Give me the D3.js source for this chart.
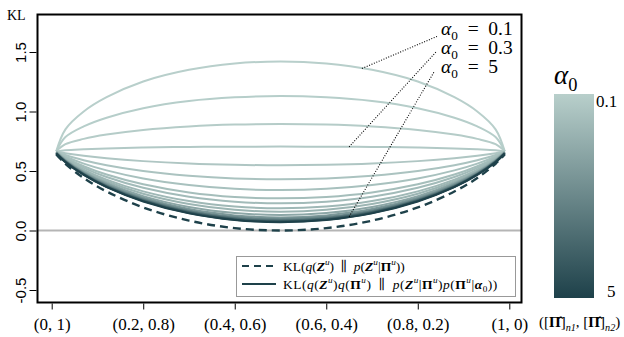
<!DOCTYPE html>
<html>
<head>
<meta charset="utf-8">
<script src="https://cdn.jsdelivr.net/npm/d3@7"></script>
<style>
  body { margin: 0; background: #fff; }
  svg { display: block; }
</style>
</head>
<body>
<svg id="chart" width="624" height="337"></svg>
<script>
// x positions: [Pi]_n1 (second coordinate is 1 - x)
const pi1 = [0.01, 0.03, 0.07, 0.12, 0.2, 0.3, 0.4, 0.5, 0.6, 0.7, 0.8, 0.88, 0.93, 0.97, 0.99];
const alpha0 = [0.1, 0.15, 0.2, 0.3, 0.4, 0.5, 0.6, 0.7, 0.8, 0.9, 1, 1.5, 2, 2.5, 3, 3.5, 4, 4.5, 5];

// KL(q(Z)q(Pi) || p(Z|Pi)p(Pi|alpha0)), one row per alpha0
const klJoint = [
  [0.665, 0.850, 1.000, 1.120, 1.252, 1.350, 1.403, 1.420, 1.403, 1.350, 1.252, 1.120, 1.000, 0.850, 0.665],
  [0.665, 0.785, 0.875, 0.948, 1.028, 1.088, 1.119, 1.130, 1.119, 1.088, 1.028, 0.948, 0.875, 0.785, 0.665],
  [0.665, 0.725, 0.770, 0.806, 0.845, 0.874, 0.890, 0.895, 0.890, 0.874, 0.845, 0.806, 0.770, 0.725, 0.665],
  [0.665, 0.675, 0.683, 0.690, 0.697, 0.702, 0.704, 0.705, 0.704, 0.702, 0.697, 0.690, 0.683, 0.675, 0.665],
  [0.664, 0.650, 0.628, 0.607, 0.583, 0.563, 0.552, 0.548, 0.552, 0.563, 0.583, 0.607, 0.628, 0.650, 0.664],
  [0.663, 0.634, 0.591, 0.549, 0.500, 0.460, 0.437, 0.430, 0.437, 0.460, 0.500, 0.549, 0.591, 0.634, 0.663],
  [0.662, 0.622, 0.562, 0.505, 0.437, 0.382, 0.350, 0.340, 0.350, 0.382, 0.437, 0.505, 0.562, 0.622, 0.662],
  [0.661, 0.613, 0.540, 0.470, 0.388, 0.320, 0.282, 0.270, 0.282, 0.320, 0.388, 0.470, 0.540, 0.613, 0.661],
  [0.660, 0.607, 0.526, 0.449, 0.359, 0.284, 0.242, 0.228, 0.242, 0.284, 0.359, 0.449, 0.526, 0.607, 0.660],
  [0.659, 0.600, 0.512, 0.428, 0.329, 0.247, 0.201, 0.186, 0.201, 0.247, 0.329, 0.428, 0.512, 0.600, 0.659],
  [0.658, 0.596, 0.503, 0.414, 0.309, 0.223, 0.174, 0.158, 0.174, 0.223, 0.309, 0.414, 0.503, 0.596, 0.658],
  [0.657, 0.592, 0.493, 0.400, 0.289, 0.198, 0.147, 0.130, 0.147, 0.198, 0.289, 0.400, 0.493, 0.592, 0.657],
  [0.655, 0.588, 0.486, 0.389, 0.275, 0.180, 0.127, 0.110, 0.127, 0.180, 0.275, 0.389, 0.486, 0.588, 0.655],
  [0.653, 0.584, 0.480, 0.382, 0.265, 0.169, 0.115, 0.097, 0.115, 0.169, 0.265, 0.382, 0.480, 0.584, 0.653],
  [0.651, 0.581, 0.476, 0.376, 0.258, 0.161, 0.106, 0.088, 0.106, 0.161, 0.258, 0.376, 0.476, 0.581, 0.651],
  [0.650, 0.580, 0.474, 0.373, 0.254, 0.155, 0.100, 0.082, 0.100, 0.155, 0.254, 0.373, 0.474, 0.580, 0.650],
  [0.648, 0.577, 0.471, 0.369, 0.250, 0.151, 0.095, 0.077, 0.095, 0.151, 0.250, 0.369, 0.471, 0.577, 0.648],
  [0.647, 0.576, 0.469, 0.367, 0.247, 0.147, 0.091, 0.073, 0.091, 0.147, 0.247, 0.367, 0.469, 0.576, 0.647],
  [0.645, 0.574, 0.467, 0.364, 0.244, 0.144, 0.088, 0.070, 0.088, 0.144, 0.244, 0.364, 0.467, 0.574, 0.645]
];
// KL(q(Z) || p(Z|Pi))
const klZ = [0.640, 0.561, 0.441, 0.328, 0.194, 0.083, 0.020, 0.000, 0.020, 0.083, 0.194, 0.328, 0.441, 0.561, 0.640];

const xTicks = [0, 0.2, 0.4, 0.6, 0.8, 1];
const xTickLabels = ["(0, 1)", "(0.2, 0.8)", "(0.4, 0.6)", "(0.6, 0.4)", "(0.8, 0.2)", "(1, 0)"];
const yTicks = [-0.5, 0, 0.5, 1, 1.5];
const yTickLabels = ["-0.5", "0.0", "0.5", "1.0", "1.5"];
const labelled = [["0.1", 0], ["0.3", 3], ["5", 18]];

const serif = "'Liberation Serif', 'DejaVu Serif', serif";
const sans = "'Liberation Sans', Arial, sans-serif";
const light = "#b8cfcb", dark = "#1e414a";

const svg = d3.select("#chart");
const x = d3.scaleLinear().domain([0, 1]).range([51.7, 509.3]);
const y = d3.scaleLinear().domain([-0.5, 1.5]).range([290, 52]);
const col = d3.scaleLinear().domain([0.1, 5]).range([light, dark]).interpolate(d3.interpolateRgb);

const box = {left: 37.5, right: 521.5, top: y(1.815), bottom: y(-0.605)};

// rich text: parts = [text, flags]; flags (space separated): i, b, sup, sub
function rich(sel, parts, size) {
  let shift = 0;
  parts.forEach(([t, f = ""]) => {
    const fl = f.split(" ");
    const ts = sel.append("tspan").text(t);
    let target = 0;
    if (fl.includes("sup")) target = -0.38 * size;
    if (fl.includes("sub")) target = 0.25 * size;
    if (target !== shift) { ts.attr("dy", target - shift); shift = target; }
    if (fl.includes("sup") || fl.includes("sub")) ts.attr("font-size", size * 0.68);
    if (fl.includes("i")) ts.attr("font-style", "italic");
    if (fl.includes("b")) ts.attr("font-weight", "bold");
  });
}

// zero line
svg.append("line")
  .attr("x1", box.left).attr("x2", box.right)
  .attr("y1", y(0)).attr("y2", y(0))
  .attr("stroke", "#b5b5b5").attr("stroke-width", 2);

const line = d3.line()
  .x((d, i) => x(pi1[i]))
  .y(d => y(d))
  .curve(d3.curveCatmullRom.alpha(0.5));

svg.append("g").selectAll("path")
  .data(klJoint)
  .join("path")
  .attr("d", line)
  .attr("fill", "none")
  .attr("stroke", (d, i) => col(alpha0[i]))
  .attr("stroke-width", 2);

svg.append("path")
  .attr("d", line(klZ))
  .attr("fill", "none")
  .attr("stroke", dark)
  .attr("stroke-width", 2.4)
  .attr("stroke-dasharray", "8,5");

// frame
svg.append("rect")
  .attr("x", box.left).attr("y", box.top)
  .attr("width", box.right - box.left).attr("height", box.bottom - box.top)
  .attr("fill", "none").attr("stroke", "#000").attr("stroke-width", 2);

// y axis
const yAxis = svg.append("g").attr("transform", `translate(${box.left - 1},0)`)
  .call(d3.axisLeft(y).tickValues(yTicks).tickSize(7).tickFormat((d, i) => yTickLabels[i]));
yAxis.select(".domain").remove();
yAxis.selectAll("line").attr("stroke", "#000").attr("stroke-width", 1);
yAxis.selectAll("text")
  .attr("font-family", sans).attr("font-size", 15).attr("fill", "#000")
  .attr("x", null).attr("y", null).attr("dy", null)
  .attr("transform", "translate(-16,0) rotate(-90)")
  .attr("text-anchor", "middle")
  .attr("dominant-baseline", "central");

svg.append("text").attr("x", 7).attr("y", 20)
  .attr("font-family", serif).attr("font-size", 14).text("KL");

// x axis
const xAxis = svg.append("g").attr("transform", `translate(0,${box.bottom + 1})`)
  .call(d3.axisBottom(x).tickValues(xTicks).tickSize(6).tickFormat((d, i) => xTickLabels[i]));
xAxis.select(".domain").remove();
xAxis.selectAll("line").attr("stroke", "#000");
xAxis.selectAll("text")
  .attr("font-family", serif).attr("font-size", 17).attr("fill", "#000")
  .attr("y", 27).attr("dy", 0);

rich(svg.append("text").attr("x", 539).attr("y", 327)
  .attr("font-family", serif).attr("font-size", 15),
  [["(["], ["Π̂", "b"], ["]"], ["n1", "sub i"], [", ["], ["Π̂", "b"], ["]"], ["n2", "sub i"], [")"]], 15);

// alpha0 annotations with dotted leaders
const annY = [35, 54, 73];
const annAt = [0.678, 0.65, 0.65];
labelled.forEach(([lab, k], j) => {
  const v = d3.scaleLinear().domain(pi1).range(klJoint[k])(annAt[j]);
  svg.append("line")
    .attr("x1", x(annAt[j])).attr("y1", y(v))
    .attr("x2", 438 - j * 2).attr("y2", annY[j] + [1, -2, -1][j])
    .attr("stroke", "#000").attr("stroke-width", 1.1).attr("stroke-dasharray", "1,1.6");
  rich(svg.append("text").attr("x", 441).attr("y", annY[j])
    .attr("font-family", serif).attr("font-size", 19.5),
    [["α", "i"], ["0", "sub"], ["\u2002=\u2002" + lab]], 19.5);
});

// legend
const lg = svg.append("g");
lg.append("rect").attr("x", 236.5).attr("y", 256.5).attr("width", 279).attr("height", 40)
  .attr("fill", "#fff").attr("stroke", "#999").attr("stroke-width", 1);
lg.append("line").attr("x1", 242).attr("x2", 276).attr("y1", 266).attr("y2", 266)
  .attr("stroke", dark).attr("stroke-width", 2).attr("stroke-dasharray", "7,5");
lg.append("line").attr("x1", 242).attr("x2", 276).attr("y1", 284).attr("y2", 284)
  .attr("stroke", dark).attr("stroke-width", 2);
const lfs = 13.5;
rich(lg.append("text").attr("x", 283).attr("y", 270.5).attr("font-family", serif).attr("font-size", lfs),
  [["KL("], ["q", "i"], ["("], ["Z", "b i"], ["u", "sup i"], [")\u2002∥\u2002"], ["p", "i"], ["("], ["Z", "b i"], ["u", "sup i"],
   ["|"], ["Π", "b"], ["u", "sup i"], ["))"]], lfs);
rich(lg.append("text").attr("x", 283).attr("y", 288.5).attr("font-family", serif).attr("font-size", lfs)
  .attr("letter-spacing", 0.5),
  [["KL("], ["q", "i"], ["("], ["Z", "b i"], ["u", "sup i"], [")"], ["q", "i"], ["("], ["Π", "b"], ["u", "sup i"],
   [")\u2002∥\u2002"], ["p", "i"], ["("], ["Z", "b i"], ["u", "sup i"], ["|"], ["Π", "b"], ["u", "sup i"], [")"],
   ["p", "i"], ["("], ["Π", "b"], ["u", "sup i"], ["|"], ["α", "b i"], ["0", "sub"], ["))"]], lfs);

// colour bar
const defs = svg.append("defs");
const grad = defs.append("linearGradient").attr("id", "cb").attr("x1", 0).attr("x2", 0).attr("y1", 0).attr("y2", 1);
grad.append("stop").attr("offset", "0%").attr("stop-color", col(0.1));
grad.append("stop").attr("offset", "100%").attr("stop-color", col(5));
svg.append("rect").attr("x", 554).attr("y", 94).attr("width", 40).attr("height", 204)
  .attr("fill", "url(#cb)");
svg.append("text").attr("x", 596).attr("y", 107).attr("font-family", serif).attr("font-size", 17).text("0.1");
svg.append("text").attr("x", 607).attr("y", 297).attr("font-family", serif).attr("font-size", 17).text("5");
rich(svg.append("text").attr("x", 554).attr("y", 84).attr("font-family", serif).attr("font-size", 27),
  [["α", "i"], ["0", "sub"]], 27);
</script>
</body>
</html>
